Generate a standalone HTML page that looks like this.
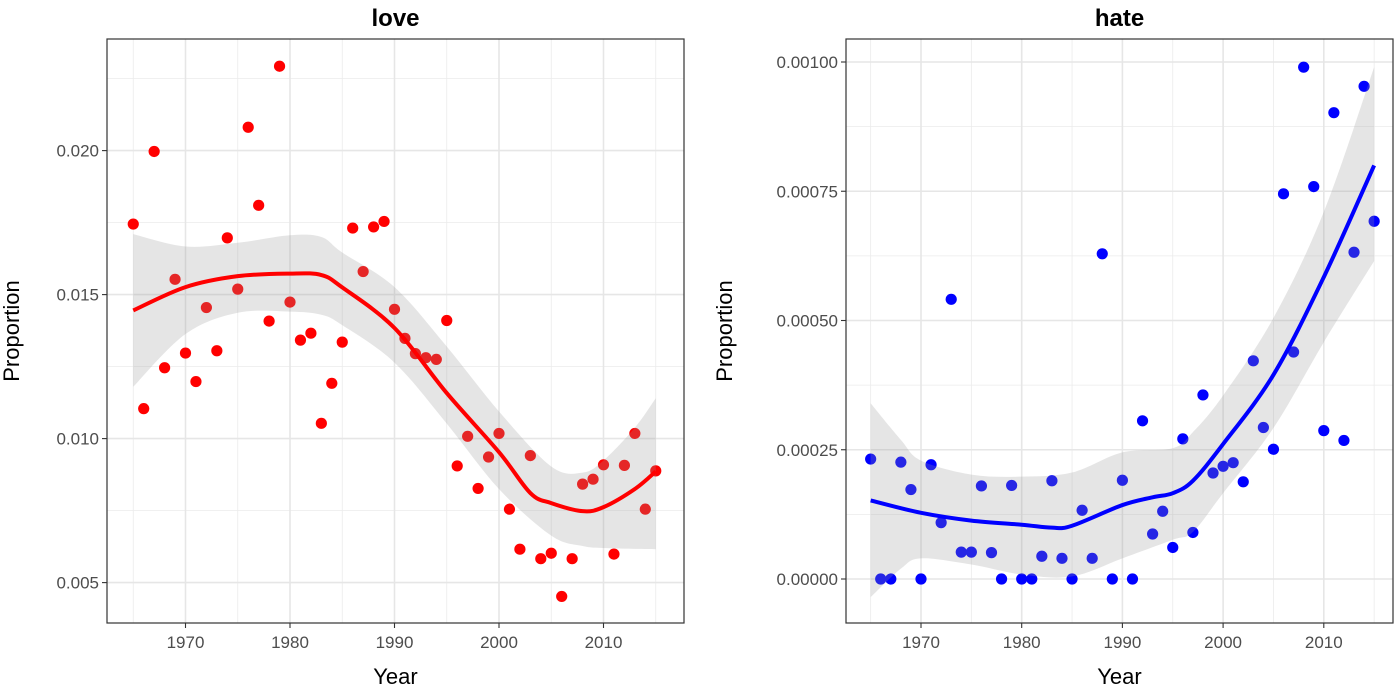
<!DOCTYPE html>
<html><head><meta charset="utf-8">
<style>
html,body{margin:0;padding:0;background:#fff;}
svg{display:block;font-family:"Liberation Sans",Arial,sans-serif;}
</style></head>
<body>
<svg id="chart" width="1400" height="686" viewBox="0 0 1400 686" xmlns="http://www.w3.org/2000/svg"></svg>
<script>
const years = [];
for (let y = 1965; y <= 2015; y++) years.push(y);
const loveValues = [0.01745,0.01104,0.01997,0.01246,0.01553,0.01297,0.01198,0.01455,0.01305,0.01697,0.01519,0.02081,0.01810,0.01408,0.02293,0.01474,0.01342,0.01366,0.01053,0.01192,0.01335,0.01731,0.01580,0.01735,0.01754,0.01449,0.01348,0.01295,0.01281,0.01275,0.01410,0.00905,0.01008,0.00827,0.00936,0.01018,0.00755,0.00616,0.00941,0.00583,0.00602,0.00452,0.00583,0.00842,0.00859,0.00909,0.00599,0.00907,0.01018,0.00755,0.00888];
const hateValues = [0.000232,0,0,0.000226,0.000173,0,0.000221,0.000109,0.000541,0.000052,0.000052,0.00018,0.000051,0,0.000181,0,0,0.000044,0.00019,0.00004,0,0.000133,0.00004,0.000629,0,0.000191,0,0.000306,0.000087,0.000131,0.000061,0.000271,0.00009,0.000356,0.000205,0.000218,0.000225,0.000188,0.000422,0.000293,0.000251,0.000745,0.000439,0.00099,0.000759,0.000287,0.000902,0.000268,0.000632,0.000953,0.000692];
const loveSmoothYears = [1965,1970,1975,1980,1983,1985,1990,1995,2000,2003,2005,2008,2010,2013,2015];
const loveSmooth = [0.01445,0.01526,0.01564,0.01573,0.01568,0.01525,0.01384,0.01158,0.00953,0.00811,0.00776,0.00748,0.00762,0.00825,0.00886];
const loveBandYears = [1965,1970,1975,1980,1983,1985,1990,1995,2000,2005,2008,2010,2013,2015];
const loveUpper = [0.0171,0.01667,0.0168,0.01706,0.01700,0.01646,0.01526,0.0132,0.01094,0.00903,0.00882,0.00924,0.01038,0.0114];
const loveLower = [0.0118,0.01363,0.01437,0.01441,0.01430,0.01394,0.01264,0.01052,0.00825,0.00663,0.00627,0.0062,0.00617,0.00616];
const hateSmoothYears = [1965,1970,1975,1980,1983,1985,1990,1993,1995,1997,2000,2005,2010,2015];
const hateSmooth = [0.000152,0.000128,0.000113,0.000105,0.0000993,0.000103,0.000143,0.000158,0.000166,0.00019,0.000261,0.000395,0.000584,0.0008];
const hateBandYears = [1965,1968,1970,1975,1980,1985,1990,1995,1997,2000,2005,2010,2015];
const hateUpper = [0.00034,0.000269,0.000229,0.000202,0.000198,0.000206,0.000245,0.000253,0.000284,0.000355,0.000505,0.00071,0.00099];
const hateLower = [-0.000035,0.00002,0.00004,0.000028,0.0000087,0.000005,0.00004,0.000076,0.000091,0.000166,0.000292,0.000458,0.000615];
const xTicks = [1970,1980,1990,2000,2010];
const xMinor = [1965,1975,1985,1995,2005,2015];
const loveYTicks = [0.005,0.010,0.015,0.020];
const loveYLabels = ["0.005","0.010","0.015","0.020"];
const loveYMinor = [0.0075,0.0125,0.0175,0.0225];
const hateYTicks = [0,0.00025,0.0005,0.00075,0.001];
const hateYLabels = ["0.00000","0.00025","0.00050","0.00075","0.00100"];
const hateYMinor = [0.000125,0.000375,0.000625,0.000875];

const NS = "http://www.w3.org/2000/svg";
const svg = document.getElementById('chart');
function mk(tag, attrs, parent){
  const e = document.createElementNS(NS, tag);
  for (const k in attrs) e.setAttribute(k, attrs[k]);
  (parent||svg).appendChild(e);
  return e;
}
function smoothPath(xs, ys){
  let d = "M" + xs[0] + "," + ys[0];
  for (let i = 0; i < xs.length - 1; i++){
    const x0 = xs[Math.max(i-1,0)], y0 = ys[Math.max(i-1,0)];
    const x1 = xs[i], y1 = ys[i], x2 = xs[i+1], y2 = ys[i+1];
    const x3 = xs[Math.min(i+2,xs.length-1)], y3 = ys[Math.min(i+2,xs.length-1)];
    d += " C" + (x1+(x2-x0)/6) + "," + (y1+(y2-y0)/6) + " " + (x2-(x3-x1)/6) + "," + (y2-(y3-y1)/6) + " " + x2 + "," + y2;
  }
  return d;
}
function panel(cfg){
  const g = mk('g', {});
  
  
  const X = y => cfg.x0 + (y - 1970) * cfg.xs;
  const Y = v => cfg.y0 + (cfg.v0 - v) * cfg.ys;
  const grid = mk('g', {}, g);
  
  
  cfg.yMinor.forEach(v => { const yy = Y(v); if (yy > cfg.top && yy < cfg.bottom) mk('line', {x1:cfg.left,x2:cfg.right,y1:yy,y2:yy,stroke:'#ebebeb','stroke-width':0.8}, grid); });
  xMinor.forEach(v => mk('line', {x1:X(v),x2:X(v),y1:cfg.top,y2:cfg.bottom,stroke:'#ebebeb','stroke-width':0.8}, grid));
  cfg.yTicks.forEach(v => mk('line', {x1:cfg.left,x2:cfg.right,y1:Y(v),y2:Y(v),stroke:'#e6e6e6','stroke-width':1.6}, grid));
  xTicks.forEach(v => mk('line', {x1:X(v),x2:X(v),y1:cfg.top,y2:cfg.bottom,stroke:'#e6e6e6','stroke-width':1.6}, grid));
  const pts = mk('g', {}, g);
  
  
  years.forEach((yr, i) => {
    const c = mk('circle', {cx:X(yr), cy:Y(cfg.values[i]), r:5.6, fill:cfg.color}, pts);
    
    
  });
  const ux = cfg.bandYears.map(X), uy = cfg.upper.map(Y);
  const lx = cfg.bandYears.map(X).reverse(), ly = cfg.lower.map(Y).reverse();
  let d = smoothPath(ux, uy) + " L" + lx[0] + "," + ly[0] + smoothPath(lx, ly).replace(/^M[^C]*/, ' ') + " Z";
  const band = mk('path', {d:d, fill:'#999999', 'fill-opacity':0.25, stroke:'none'}, g);
  
  
  const line = mk('path', {d:smoothPath(cfg.smoothYears.map(X), cfg.smooth.map(Y)), fill:'none', stroke:cfg.color, 'stroke-width':4}, g);
  
  
  const fr = mk('rect', {x:cfg.left, y:cfg.top, width:cfg.right-cfg.left, height:cfg.bottom-cfg.top, fill:'none', stroke:'#333', 'stroke-width':1.2}, g);
  
  
  const xa = mk('g', {}, g);
  
  
  xTicks.forEach(v => {
    mk('line', {x1:X(v),x2:X(v),y1:cfg.bottom,y2:cfg.bottom+5,stroke:'#333','stroke-width':1.1}, xa);
    const t = mk('text', {x:X(v), y:cfg.bottom+25, 'text-anchor':'middle', 'font-size':17, fill:'#4d4d4d'}, xa);
    t.textContent = v;
  });
  const ya = mk('g', {}, g);
  
  
  cfg.yTicks.forEach((v, i) => {
    mk('line', {x1:cfg.left-5,x2:cfg.left,y1:Y(v),y2:Y(v),stroke:'#333','stroke-width':1.1}, ya);
    const t = mk('text', {x:cfg.left-8, y:Y(v)+6, 'text-anchor':'end', 'font-size':17, fill:'#4d4d4d'}, ya);
    t.textContent = cfg.yLabels[i];
  });
  const title = mk('text', {x:(cfg.left+cfg.right)/2, y:26, 'text-anchor':'middle', 'font-size':24, 'font-weight':'bold', fill:'#000'}, g);
  title.textContent = cfg.name;
  
  
  const xt = mk('text', {x:(cfg.left+cfg.right)/2, y:684, 'text-anchor':'middle', 'font-size':22, fill:'#000'}, g);
  xt.textContent = 'Year';
  
  
  const ytx = cfg.ytitleX, yty = (cfg.top+cfg.bottom)/2;
  const yt = mk('text', {x:ytx, y:yty, 'text-anchor':'middle', 'font-size':22, fill:'#000', transform:'rotate(-90 '+ytx+' '+yty+')'}, g);
  yt.textContent = 'Proportion';
  
  
}
panel({name:'love', color:'#ff0000', values:loveValues, smoothYears:loveSmoothYears, smooth:loveSmooth,
  bandYears:loveBandYears, upper:loveUpper, lower:loveLower, yTicks:loveYTicks, yLabels:loveYLabels, yMinor:loveYMinor,
  left:107, right:684, top:39, bottom:623, x0:185.5, xs:10.45, y0:150.6, v0:0.020, ys:144/0.005, ytitleX:19});
panel({name:'hate', color:'#0000ff', values:hateValues, smoothYears:hateSmoothYears, smooth:hateSmooth,
  bandYears:hateBandYears, upper:hateUpper, lower:hateLower, yTicks:hateYTicks, yLabels:hateYLabels, yMinor:hateYMinor,
  left:846, right:1393, top:39, bottom:623, x0:921, xs:10.07, y0:579, v0:0, ys:517/0.001, ytitleX:732});
</script>
</body></html>
